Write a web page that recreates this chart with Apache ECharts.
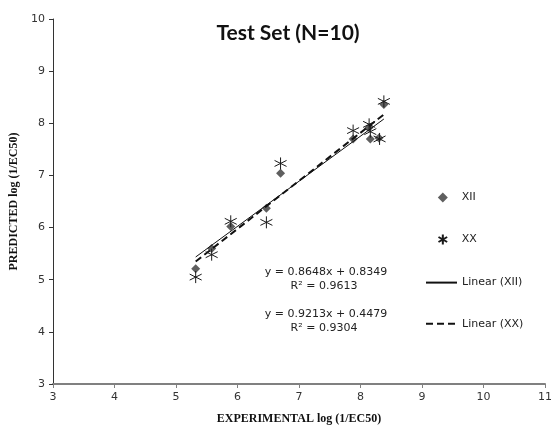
<!DOCTYPE html>
<html>
<head>
<meta charset="utf-8">
<script src="https://cdn.jsdelivr.net/npm/echarts@6/dist/echarts.min.js"></script>
<style>
  html, body { margin: 0; padding: 0; background: #fff; }
  #main { width: 555px; height: 430px; }
</style>
</head>
<body>
<div id="main"></div>
<script>
// 数据
var xiiExp  = [5.32, 5.58, 5.89, 6.47, 6.70, 7.88, 8.14, 8.16, 8.30, 8.38];
var xiiPred = [5.21, 5.60, 6.02, 6.37, 7.04, 7.70, 7.92, 7.70, 7.72, 8.36];
var xxExp   = [5.32, 5.58, 5.89, 6.47, 6.70, 7.88, 8.14, 8.16, 8.31, 8.38];
var xxPred  = [5.05, 5.48, 6.12, 6.10, 7.23, 7.86, 7.98, 7.84, 7.70, 8.42];

// 趋势线 y = a*x + b
var xiiFit = [0.8648, 0.8349];
var xxFit  = [0.9213, 0.4479];
var eqTexts = [
    ['y = 0.8648x + 0.8349', 'R² = 0.9613'],
    ['y = 0.9213x + 0.4479', 'R² = 0.9304']
];

function pairs(xs, ys) {
    return xs.map(function (x, i) { return [x, ys[i]]; });
}
function fitLine(xs, fit) {
    var lo = Math.min.apply(null, xs), hi = Math.max.apply(null, xs);
    return [[lo, fit[0] * lo + fit[1]], [hi, fit[0] * hi + fit[1]]];
}

var starPath = 'path://M0,-10L0,10M-8.66,-5L8.66,5M-8.66,5L8.66,-5';
var labelFont = 'DejaVu Sans';

var option = {
    animation: false,
    backgroundColor: '#fff',
    title: {
        text: 'Test Set (N=10)',
        left: 283,
        top: 18,
        textAlign: 'center',
        textStyle: { fontFamily: 'Lato', fontWeight: 'bold', fontSize: 21, color: '#111' }
    },
    grid: { left: 51, right: 8, top: 19, bottom: 38 },
    legend: [
        {
            orient: 'vertical',
            left: 436,
            top: 192,
            padding: 0,
            itemWidth: 10,
            itemHeight: 10,
            itemGap: 29,
            textStyle: { fontFamily: labelFont, fontSize: 11, color: '#222', padding: [0, 0, 0, 9] },
            data: ['XII', 'XX']
        },
        {
            orient: 'vertical',
            left: 425,
            top: 277,
            padding: 0,
            itemWidth: 31,
            itemHeight: 14,
            itemGap: 30,
            itemStyle: { opacity: 0 },
            textStyle: { fontFamily: labelFont, fontSize: 11, color: '#222' },
            data: ['Linear (XII)', 'Linear (XX)']
        }
    ],
    xAxis: {
        type: 'value',
        min: 3, max: 11, interval: 1,
        name: 'EXPERIMENTAL log (1/EC50)',
        nameLocation: 'middle',
        nameGap: 29,
        nameTextStyle: { fontFamily: 'Liberation Serif', fontWeight: 'bold', fontSize: 12, color: '#111' },
        axisLine: { lineStyle: { color: '#808080', width: 2 } },
        axisTick: { length: 4, lineStyle: { color: '#808080' } },
        axisLabel: { fontFamily: labelFont, fontSize: 11, color: '#333', margin: 8 },
        splitLine: { show: false }
    },
    yAxis: {
        type: 'value',
        min: 3, max: 10, interval: 1,
        name: 'PREDICTED log (1/EC50)',
        nameLocation: 'middle',
        nameGap: 33,
        nameTextStyle: { fontFamily: 'Liberation Serif', fontWeight: 'bold', fontSize: 12, color: '#111' },
        axisLine: { show: true, lineStyle: { color: '#333', width: 1 } },
        axisTick: { show: true, length: 4, lineStyle: { color: '#333' } },
        axisLabel: { fontFamily: labelFont, fontSize: 11, color: '#333', margin: 8 },
        splitLine: { show: false }
    },
    series: [
        {
            name: 'Linear (XII)',
            type: 'line',
            data: fitLine(xiiExp, xiiFit),
            symbol: 'none',
            lineStyle: { color: '#111', width: 1 },
            itemStyle: { color: '#111' },
            z: 3
        },
        {
            name: 'Linear (XX)',
            type: 'line',
            data: fitLine(xxExp, xxFit),
            symbol: 'none',
            lineStyle: { color: '#111', width: 2, type: [7, 4] },
            itemStyle: { color: '#111' },
            z: 3
        },
        {
            name: 'XII',
            type: 'scatter',
            data: pairs(xiiExp, xiiPred),
            symbol: 'diamond',
            symbolSize: 9,
            itemStyle: { color: '#5f5f5f', opacity: 1 },
            z: 2
        },
        {
            name: 'XX',
            type: 'scatter',
            data: pairs(xxExp, xxPred),
            symbol: starPath,
            symbolSize: 12,
            itemStyle: { color: 'none', borderColor: '#1a1a1a', borderWidth: 1, opacity: 1 },
            z: 4
        }
    ]
};

// 方程文字
option.graphic = [];
var eqY = [267, 309];
eqTexts.forEach(function (t, i) {
    option.graphic.push({
        type: 'text', x: 326, y: eqY[i],
        style: { text: t[0], font: '11px "DejaVu Sans"', fill: '#222', textAlign: 'center' }
    });
    option.graphic.push({
        type: 'text', x: 324, y: eqY[i] + 14,
        style: { text: t[1], font: '11px "DejaVu Sans"', fill: '#222', textAlign: 'center' }
    });
});

var myChart = echarts.init(document.getElementById('main'), null, { renderer: 'canvas' });
myChart.setOption(option);
</script>
</body>
</html>
